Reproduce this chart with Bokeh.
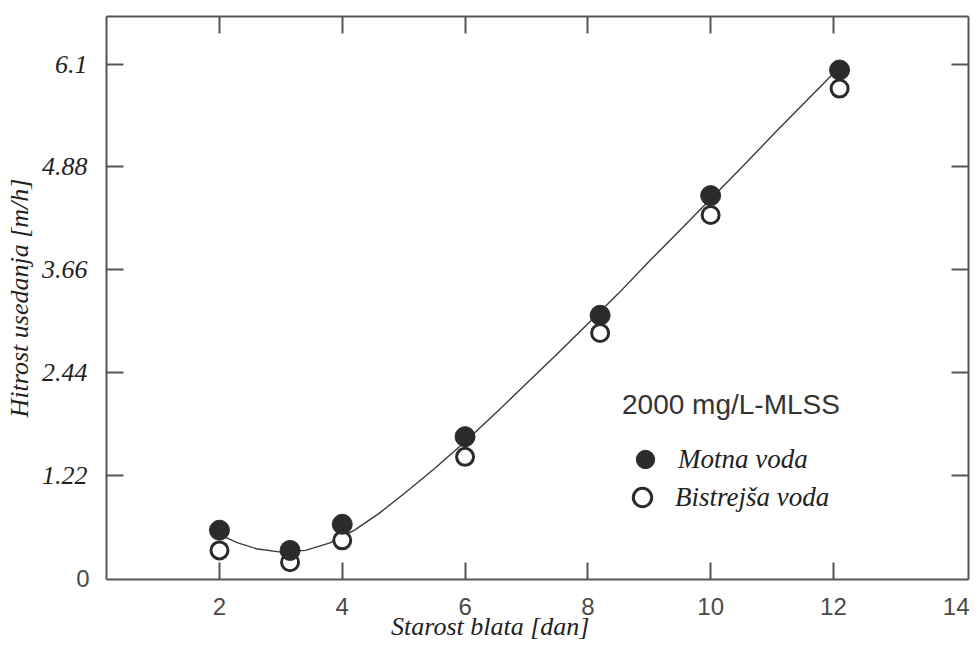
from bokeh.plotting import figure
from bokeh.models import Range1d, LinearAxis, FixedTicker, Legend, LegendItem
from bokeh.embed import file_html
from bokeh.resources import INLINE

# ---- data ----
sludge_age = [2.0, 3.15, 4.0, 6.0, 8.2, 10.0, 12.1]
motna_voda = [0.57, 0.33, 0.64, 1.68, 3.12, 4.54, 6.03]
bistrejsa_voda = [0.33, 0.19, 0.45, 1.44, 2.91, 4.31, 5.81]

curve_x = [2.05, 2.3, 2.6, 3.0, 3.4, 3.8, 4.2, 4.6, 5.0, 5.5, 6.0, 6.5, 7.0,
           7.5, 8.0, 8.5, 9.0, 9.5, 10.0, 10.5, 11.0, 11.5, 12.0]
curve_y = [0.50, 0.42, 0.35, 0.31, 0.33, 0.42, 0.57, 0.77, 1.00, 1.30, 1.62,
           1.96, 2.31, 2.66, 3.02, 3.38, 3.76, 4.13, 4.50, 4.87, 5.25, 5.62, 5.99]

x_label_ticks = [2, 4, 6, 8, 10, 12, 14]
x_mark_ticks = [2, 4, 6, 8, 10, 12]
y_zero = [0]
y_ticks = [1.22, 2.44, 3.66, 4.88, 6.1]
y_tick_labels = ["1.22", "2.44", "3.66", "4.88", "6.1"]

x_title = "Starost blata [dan]"
x_title_at = 6.41
y_title = "Hitrost usedanja [m/h]"
legend_title = "2000 mg/L-MLSS"
series_names = ["Motna voda", "Bistrejša voda"]

SERIF = "Liberation Serif"
SANS = "Liberation Sans"
INK = "#2b2b2b"
AXC = "#555555"
TXT = "#222222"
GREY = "#4a4a4a"

p = figure(width=977, height=647, output_backend="svg", toolbar_location=None,
           x_range=Range1d(0.16, 14.2), y_range=Range1d(-0.015, 6.665),
           x_axis_type=None, y_axis_type=None,
           min_border_left=106, min_border_right=9, min_border_top=16, min_border_bottom=68)
p.grid.visible = False
p.outline_line_color = None
p.background_fill_color = "white"
p.border_fill_color = "white"


def style_axis(ax, line=True):
    ax.axis_line_color = AXC if line else None
    ax.axis_line_width = 2
    ax.major_tick_line_color = AXC
    ax.major_tick_line_width = 2
    ax.minor_tick_line_color = AXC
    ax.minor_tick_line_width = 2
    ax.major_tick_out = 0
    ax.minor_tick_out = 0
    ax.major_tick_in = 0
    ax.minor_tick_in = 0


# ---- bottom: inner axis (numbers + inward marks), outer axis (title) ----
xb = LinearAxis(ticker=FixedTicker(ticks=x_label_ticks, minor_ticks=x_mark_ticks))
style_axis(xb)
xb.minor_tick_in = 17
xb.major_label_overrides = {t: str(t) for t in x_label_ticks}
xb.major_label_text_font = SANS
xb.major_label_text_font_size = "24px"
xb.major_label_text_color = GREY
xb.major_label_standoff = 18
p.add_layout(xb, "below")

xb2 = LinearAxis(ticker=FixedTicker(ticks=[x_title_at]))
style_axis(xb2, line=False)
xb2.major_tick_line_color = None
xb2.major_label_overrides = {x_title_at: x_title}
xb2.major_label_text_font = SERIF
xb2.major_label_text_font_style = "italic"
xb2.major_label_text_font_size = "26px"
xb2.major_label_text_color = TXT
xb2.major_label_standoff = -6
p.add_layout(xb2, "below")

# ---- top: marks only ----
xt = LinearAxis(ticker=FixedTicker(ticks=x_mark_ticks))
style_axis(xt)
xt.major_tick_in = 17
xt.major_label_overrides = {t: "" for t in x_mark_ticks}
xt.major_label_text_font_size = "10px"
xt.major_label_standoff = 0
p.add_layout(xt, "above")

# ---- left: inner axis ("0" + inward marks), outer axis (italic numbers + title) ----
yl = LinearAxis(ticker=FixedTicker(ticks=y_zero, minor_ticks=y_ticks))
style_axis(yl)
yl.minor_tick_in = 17
yl.major_label_overrides = {0: "0"}
yl.major_label_text_font = SANS
yl.major_label_text_font_size = "24px"
yl.major_label_text_color = GREY
yl.major_label_standoff = 17
p.add_layout(yl, "left")

yl2 = LinearAxis(ticker=FixedTicker(ticks=y_ticks))
style_axis(yl2, line=False)
yl2.major_tick_line_color = None
yl2.major_label_overrides = dict(zip(y_ticks, y_tick_labels))
yl2.major_label_text_font = SERIF
yl2.major_label_text_font_style = "italic"
yl2.major_label_text_font_size = "26px"
yl2.major_label_text_color = TXT
yl2.major_label_standoff = -14
yl2.axis_label = y_title
yl2.axis_label_text_font = SERIF
yl2.axis_label_text_font_style = "italic"
yl2.axis_label_text_font_size = "26px"
yl2.axis_label_text_color = TXT
yl2.axis_label_standoff = 5
p.add_layout(yl2, "left")

# ---- right: marks only ----
yr = LinearAxis(ticker=FixedTicker(ticks=y_ticks))
style_axis(yr)
yr.major_tick_in = 17
yr.major_label_overrides = {t: "" for t in y_ticks}
yr.major_label_text_font_size = "10px"
yr.major_label_standoff = 0
p.add_layout(yr, "right")

# ---- fitted curve and points ----
p.line(curve_x, curve_y, line_color="#3a3a3a", line_width=1.4)
r_b = p.scatter(sludge_age, bistrejsa_voda, size=17, fill_color="white",
                line_color=INK, line_width=3)
r_m = p.scatter(sludge_age, motna_voda, size=20, fill_color=INK, line_color=INK, line_width=1)

common = dict(label_text_font=SERIF, label_text_font_style="italic",
              label_text_font_size="27px", label_text_color=TXT,
              glyph_width=46, glyph_height=46, label_height=46, spacing=0,
              label_standoff=10, padding=0, margin=0, border_line_color=None,
              background_fill_alpha=0)

leg1 = Legend(items=[LegendItem(label=series_names[0], renderers=[r_m])],
              location=(516, 97), title=legend_title,
              title_text_font=SANS, title_text_font_size="28px",
              title_text_font_style="normal", title_text_color="#333333",
              title_standoff=15, **common)
leg2 = Legend(items=[LegendItem(label=series_names[1], renderers=[r_b])],
              location=(513, 59), **common)
p.add_layout(leg1)
p.add_layout(leg2)

open("out.html", "w").write(file_html(p, INLINE))
